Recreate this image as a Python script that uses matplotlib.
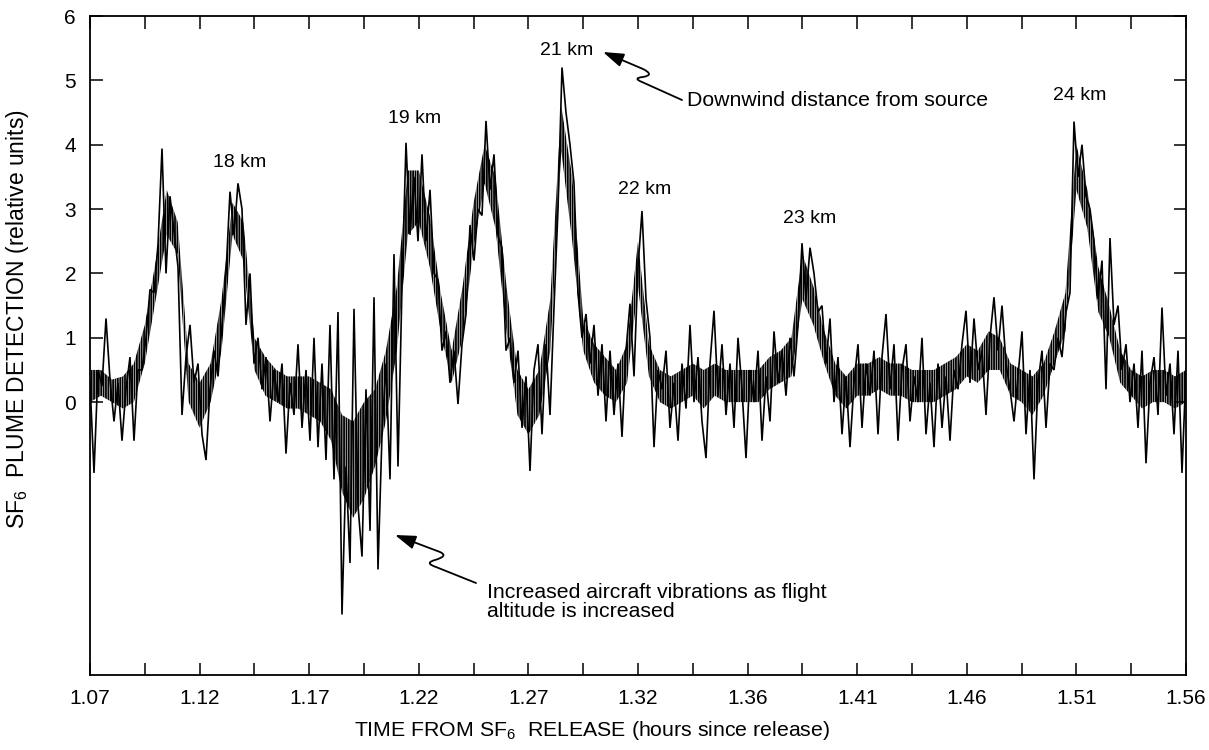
import matplotlib
matplotlib.use("Agg")
import matplotlib.pyplot as plt
import numpy as np
from matplotlib.path import Path
from matplotlib.patches import FancyArrowPatch

plt.rcParams["font.family"] = ["Liberation Sans", "DejaVu Sans"]
plt.rcParams["mathtext.default"] = "regular"
plt.rcParams["hatch.linewidth"] = 1.3

# ----------------------------------------------------------------------------
# Data: SF6 detector trace read off the figure, evenly sampled in time
# between T_START and T_END (relative units)
# ----------------------------------------------------------------------------
T_START, T_END = 1.07, 1.56

sec_start = [0.3, -1.1, 0.5, 0.25, 1.3, 0.35, -0.3, 0.3, -0.6, 0.2, 0.7, -0.6,
             0.5, 0.5, 1.0]
sec_peak1 = [1.75, 1.7, 2.45, 3.94, 2.0, 3.2, 2.65, 2.1, -0.2, 0.7]
sec_gap1 = [1.2, 0.3, 0.6, -0.5, -0.9, 0.2, 0.8, 0.4, 1.2]
sec_18km = [2.0, 3.27, 2.6, 3.4, 3.0, 1.2, 2.0, 0.6]
sec_gap2 = [1.0, 0.2, 0.7, -0.3, 0.5, 0.0, 0.6, -0.8, 0.3, -0.2, 0.9, -0.4,
            0.5, -0.6, 1.0, -0.7, 0.6, -0.9, 1.2, -1.2, 1.4]
sec_vibration = [-3.3, -1.0, -2.5, 1.45, -1.6, -2.4, 0.2, -2.0, 1.63, -2.6,
                 -0.5, 0.6, -1.2, 2.3, -1.0, 1.8]
sec_19km = [4.03, 2.6, 3.5, 2.5, 3.85, 2.5, 3.3, 2.0, 1.9, 0.8, 1.1, 0.3, 0.8,
            -0.03, 0.9]
sec_20km = [1.37, 2.75, 2.2, 3.0, 2.9, 4.37, 3.3, 3.85, 2.58, 2.4, 0.8, 1.0]
sec_gap3 = [0.3, 0.8, -0.4, 0.4, -1.07, 0.5, 0.9, -0.5, 0.9, -0.2, 1.47]
sec_21km = [3.0, 5.2, 4.5, 4.0, 3.4, 1.7, 1.0]
sec_gap4 = [1.37, 0.6, 1.2, 0.1, 0.9, -0.3, 0.8, -0.2, 0.6, -0.54, 0.8, 1.53, 0.4]
sec_22km = [2.1, 2.97, 1.6, 1.0]
sec_gap5 = [-0.7, 0.5, 0.2, 0.8, -0.4, 0.3, -0.6, 0.6, -0.1, 1.2, 0.0, 0.7,
            -0.3, -0.87, 0.6, 1.42, 0.1, 0.9, -0.2, 0.6, -0.4, 1.0, 0.2, -0.87,
            0.5, 0.0, 0.8, -0.6, 0.4, -0.3, 1.1, 0.3, 0.8, 0.1, 1.0, 0.4]
sec_23km = [1.2, 2.47, 1.6, 2.4, 2.0, 1.4, 1.5, 0.6, 1.3]
sec_gap6 = [0.0, 0.7, -0.5, 0.4, -0.7, 0.3, 0.9, -0.4, 0.6, 0.1, 0.8, -0.5,
            0.7, 1.37, 0.2, 0.9, -0.6, 0.5, 0.9, -0.3, 0.4, 0.0, 1.0, -0.5,
            0.3, -0.7, 0.6, -0.4, 0.4, -0.6, 0.5, 0.2, 0.9, 1.42, 0.3, 1.3,
            0.5, 0.8, -0.2, 1.0, 1.63, 0.8, 1.5, 0.6, 0.2, -0.3, 0.4, 1.1,
            -0.5, 0.5, -1.2, 0.3, 0.8, -0.4, 0.6, 0.5, 1.0, 0.7, 1.4]
sec_24km = [1.7, 4.36, 3.5, 4.0, 3.2, 3.0, 2.5, 1.6, 2.2, 0.2, 2.55, 1.2, 1.5]
sec_end = [0.5, 0.9, 0.0, 0.6, -0.4, 0.8, -0.95, 0.3, 0.7, -0.2, 1.47, 0.1,
           0.6, -0.5, 0.8, -1.1, 0.5]

# dense core of the trace (where the ink is nearly solid), coarser sampling
core_lo = [0.0, 0.1, 0.0, -0.1, 0.0, 0.6, 1.6, 2.6, 2.3, 0.0,
           -0.4, 0.0, 0.8, 2.6, 2.2, 0.5, 0.1, 0.0, -0.1, -0.1,
           -0.2, -0.3, -0.6, -1.4, -1.8, -1.5, -1.0, -0.3, 0.8, 2.6,
           2.8, 2.1, 1.1, 0.3, 1.0, 2.4, 3.4, 2.7, 1.1, -0.2,
           -0.5, -0.2, 0.8, 3.9, 2.5, 0.8, 0.3, 0.1, 0.0, 0.3,
           1.8, 0.4, 0.0, -0.1, 0.0, 0.1, -0.1, 0.1, 0.0, 0.0,
           0.0, 0.0, 0.2, 0.3, 0.4, 1.6, 1.2, 0.6, 0.1, -0.1,
           0.1, 0.1, 0.2, 0.1, 0.1, 0.0, 0.0, 0.0, 0.1, 0.2,
           0.4, 0.3, 0.5, 0.5, 0.1, 0.0, -0.2, 0.1, 0.6, 1.1,
           3.3, 2.7, 1.4, 1.0, 0.3, 0.1, -0.1, 0.0, 0.0, -0.1,
           0.0]
core_hi = [0.5, 0.5, 0.35, 0.4, 0.6, 1.2, 2.2, 3.3, 2.8, 0.6,
           0.3, 0.6, 1.6, 3.1, 2.8, 1.0, 0.7, 0.5, 0.4, 0.4,
           0.4, 0.3, 0.2, -0.2, -0.3, 0.0, 0.2, 0.8, 1.8, 3.6,
           3.6, 2.9, 1.7, 0.8, 1.8, 3.1, 4.0, 3.5, 1.8, 0.5,
           0.2, 0.5, 1.6, 4.6, 3.5, 1.3, 0.9, 0.7, 0.5, 0.9,
           2.5, 0.9, 0.5, 0.4, 0.5, 0.6, 0.5, 0.6, 0.5, 0.5,
           0.5, 0.5, 0.7, 0.8, 1.0, 2.3, 1.8, 1.1, 0.6, 0.4,
           0.6, 0.6, 0.7, 0.6, 0.6, 0.5, 0.5, 0.5, 0.6, 0.7,
           0.9, 0.8, 1.1, 1.0, 0.6, 0.5, 0.4, 0.6, 1.1, 1.7,
           4.0, 3.3, 2.1, 1.5, 0.8, 0.5, 0.4, 0.5, 0.5, 0.4,
           0.5]

tick_labels = ["1.07", "1.12", "1.17", "1.22", "1.27", "1.32", "1.36", "1.41",
               "1.46", "1.51", "1.56"]
y_ticks = [0, 1, 2, 3, 4, 5, 6]

peak_names = ["18 km", "19 km", "21 km", "22 km", "23 km", "24 km"]
peak_name_t = [1.137, 1.2152, 1.283, 1.3179, 1.3916, 1.5126]
peak_name_v = [3.73, 4.41, 5.47, 3.30, 2.86, 4.77]


signal = np.array(sec_start + sec_peak1 + sec_gap1 + sec_18km + sec_gap2
                  + sec_vibration + sec_19km + sec_20km + sec_gap3 + sec_21km
                  + sec_gap4 + sec_22km + sec_gap5 + sec_23km + sec_gap6
                  + sec_24km + sec_end)
hours = np.linspace(T_START, T_END, len(signal))
core_hours = np.linspace(T_START, T_END, len(core_lo))

W, H = 1209, 750


def px(x, y):
    """pixel position on the page -> figure fraction"""
    return (x / W, 1 - y / H)


fig = plt.figure(figsize=(W / 100, H / 100), dpi=100)
ax = fig.add_axes([90 / W, 1 - 675 / H, (1186 - 90) / W, (675 - 16) / H])

# ink core drawn as tight vertical strokes, the sampled trace on top
ax.fill_between(core_hours, core_lo, core_hi, facecolor="none",
                edgecolor="black", hatch="|||||||", lw=0)
ax.plot(hours, signal, color="black", lw=1.2, solid_joinstyle="miter")

ax.set_xlim(T_START, T_END)
ax.set_ylim(-4.24, 6)
ax.set_xticks(np.linspace(T_START, T_END, len(tick_labels)))
ax.set_xticklabels(tick_labels)
ax.set_xticks(np.linspace(T_START, T_END, 2 * len(tick_labels) - 1), minor=True)
ax.set_yticks(y_ticks)
ax.tick_params(which="both", direction="in", length=9, width=1.1,
               top=True, right=True, labelsize=15, colors="black")
ax.tick_params(axis="x", pad=10)
ax.tick_params(axis="y", pad=10)
for s in ax.spines.values():
    s.set_linewidth(1.3)

fig.text(*px(592, 731), "TIME FROM SF$_6$  RELEASE (hours since release)",
         ha="center", va="center", fontsize=15.3)
fig.text(*px(18, 319), "SF$_6$  PLUME DETECTION (relative units)",
         ha="center", va="center", rotation=90, fontsize=16.5)

for name, t, v in zip(peak_names, peak_name_t, peak_name_v):
    ax.text(t, v, name, ha="center", va="center", fontsize=14)

fig.text(*px(687, 100), "Downwind distance from source",
         ha="left", va="center", fontsize=15.3)
fig.text(*px(487, 602), "Increased aircraft vibrations as flight\naltitude is increased",
         ha="left", va="center", fontsize=15.3, linespacing=1.0)

# squiggly pointer arrows (page pixel positions)
codes = [Path.MOVETO, Path.LINETO, Path.CURVE3, Path.CURVE3, Path.CURVE3,
         Path.CURVE3, Path.LINETO]
upper = [(682, 100), (642, 82), (632, 78), (643, 77), (655, 75), (643, 69), (603, 52)]
lower = [(476, 583), (436, 567), (424, 563), (435, 560), (449, 556), (440, 552), (395, 535)]
for pts in (upper, lower):
    path = Path([px(*p) for p in pts], codes)
    arr = FancyArrowPatch(path=path, transform=fig.transFigure,
                          arrowstyle="-|>,head_length=0.9,head_width=0.3",
                          mutation_scale=14, lw=1.3, color="black")
    fig.patches.append(arr)

fig.savefig("out.png", dpi=100, facecolor="white")
